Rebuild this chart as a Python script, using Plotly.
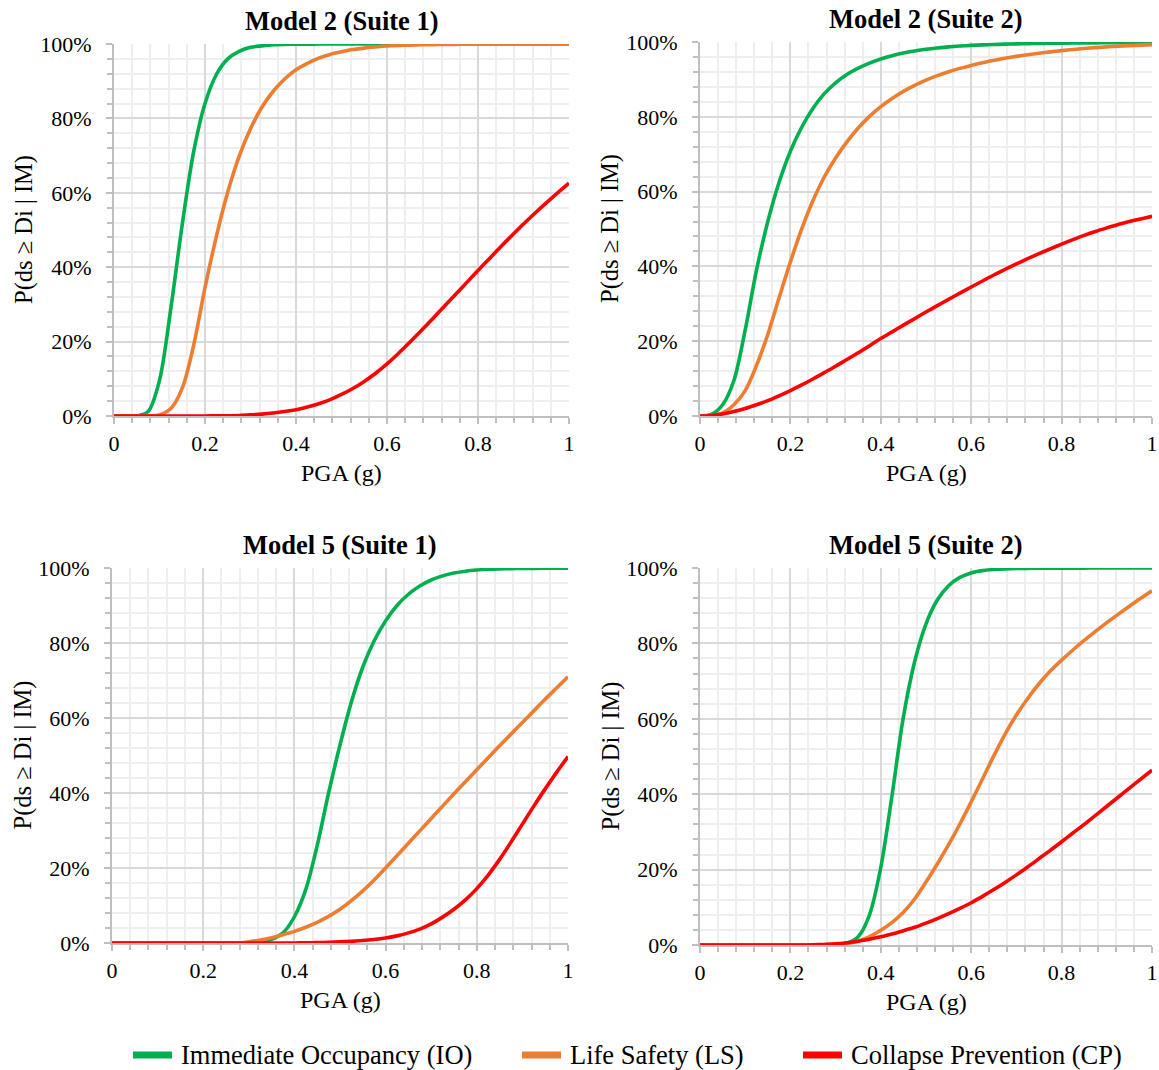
import plotly.graph_objects as go

# PGA (g) sample points
pga = [0, 0.025, 0.05, 0.075, 0.1, 0.125, 0.15, 0.175, 0.2, 0.225, 0.25, 0.275, 0.3,
       0.325, 0.35, 0.375, 0.4, 0.425, 0.45, 0.475, 0.5, 0.525, 0.55, 0.575, 0.6,
       0.625, 0.65, 0.675, 0.7, 0.725, 0.75, 0.775, 0.8, 0.825, 0.85, 0.875, 0.9,
       0.925, 0.95, 0.975, 1.0]

# Probabilities of exceedance (%)
m2s1_io = [0, 0, 0, 1.2, 9.6, 29, 51.5, 71, 84, 91.8, 96, 98, 99.1, 99.5, 99.8, 99.9, 99.95,
           99.97, 99.98, 99.99, 100, 100, 100, 100, 100, 100, 100, 100, 100, 100, 100, 100,
           100, 100, 100, 100, 100, 100, 100, 100, 100]
m2s1_ls = [0, 0, 0, 0, 0.3, 2, 7.5, 19, 34.5, 48.3, 60.2, 69.8, 77.2, 83.0, 87.3, 90.6, 93.1,
           94.8, 96.2, 97.2, 97.9, 98.5, 98.9, 99.2, 99.45, 99.6, 99.7, 99.78, 99.84, 99.88,
           99.91, 99.93, 99.95, 99.96, 99.97, 99.98, 99.98, 99.99, 99.99, 99.99, 100]
m2s1_cp = [0, 0, 0, 0, 0, 0, 0, 0, 0.02, 0.04, 0.08, 0.15, 0.3, 0.5, 0.8, 1.2, 1.7, 2.4, 3.3,
           4.4, 5.8, 7.4, 9.3, 11.5, 14.0, 16.8, 19.8, 22.9, 26.1, 29.35, 32.6, 35.85, 39.1,
           42.3, 45.5, 48.6, 51.6, 54.5, 57.3, 60.0, 62.6]

m2s2_io = [0, 0.4, 3.0, 9.5, 23.0, 39.0, 52.0, 62.5, 70.8, 77.2, 82.3, 86.2, 89.1, 91.3, 93.0,
           94.35, 95.45, 96.35, 97.05, 97.6, 98.05, 98.4, 98.7, 98.92, 99.1, 99.23, 99.33,
           99.42, 99.5, 99.56, 99.61, 99.65, 99.69, 99.72, 99.75, 99.77, 99.8, 99.82, 99.84,
           99.85, 99.87]
m2s2_ls = [0, 0.1, 0.8, 3.0, 6.8, 13.5, 21.8, 31.6, 41.2, 50.0, 57.6, 63.9, 69.0, 73.3, 77.0,
           80.1, 82.7, 84.9, 86.8, 88.4, 89.8, 91.0, 92.05, 92.95, 93.75, 94.45, 95.1, 95.65,
           96.15, 96.6, 97.0, 97.35, 97.7, 98.0, 98.25, 98.5, 98.7, 98.88, 99.03, 99.17, 99.3]
m2s2_cp = [0, 0.15, 0.55, 1.2, 2.0, 3.0, 4.1, 5.4, 6.8, 8.3, 9.9, 11.6, 13.3, 15.1, 16.9, 18.8,
           20.7, 22.5, 24.3, 26.05, 27.8, 29.5, 31.2, 32.85, 34.5, 36.1, 37.7, 39.2, 40.65,
           42.05, 43.4, 44.7, 45.95, 47.15, 48.3, 49.35, 50.3, 51.2, 52.0, 52.7, 53.4]

m5s1_io = [0, 0, 0, 0, 0, 0, 0, 0, 0, 0, 0, 0, 0, 0.3, 1.0, 2.7, 7.0, 14.3, 26.0, 40.0, 52.8,
           64.3, 73.6, 80.6, 85.9, 90.0, 93.0, 95.2, 96.8, 97.9, 98.65, 99.15, 99.45, 99.65,
           99.77, 99.84, 99.88, 99.91, 99.93, 99.94, 99.95]
m5s1_ls = [0, 0, 0, 0, 0, 0, 0, 0, 0, 0, 0, 0, 0.35, 0.8, 1.4, 2.2, 3.1, 4.2, 5.5, 7.1, 9.0,
           11.3, 13.9, 16.8, 20.0, 23.3, 26.6, 29.9, 33.2, 36.5, 39.8, 43.0, 46.2, 49.4, 52.6,
           55.7, 58.8, 61.9, 65.0, 68.0, 71.0]
m5s1_cp = [0, 0, 0, 0, 0, 0, 0, 0, 0, 0, 0, 0, 0, 0, 0, 0, 0, 0.05, 0.1, 0.2, 0.3, 0.45, 0.65,
           0.95, 1.35, 1.9, 2.7, 3.7, 5.1, 6.9, 9.0, 11.5, 14.5, 18.1, 22.3, 26.9, 31.7, 36.5,
           41.1, 45.5, 49.7]

m5s2_io = [0, 0, 0, 0, 0, 0, 0, 0, 0, 0, 0, 0, 0.05, 0.5, 2.2, 8.0, 20.6, 39.8, 60.5, 75.2,
           85.2, 91.5, 95.3, 97.5, 98.7, 99.3, 99.6, 99.77, 99.86, 99.91, 99.94, 99.96, 99.97,
           99.98, 99.98, 99.99, 99.99, 99.99, 99.99, 100, 100]
m5s2_ls = [0, 0, 0, 0, 0, 0, 0, 0, 0, 0, 0, 0, 0.1, 0.4, 1.0, 2.2, 3.9, 6.0, 8.7, 12.2, 16.7,
           21.5, 26.6, 32.1, 37.95, 44.05, 50.15, 55.95, 61.0, 65.4, 69.3, 72.65, 75.55,
           78.25, 80.8, 83.2, 85.5, 87.7, 89.85, 91.95, 93.95]
m5s2_cp = [0, 0, 0, 0, 0, 0, 0, 0, 0, 0, 0.05, 0.15, 0.3, 0.6, 1.0, 1.5, 2.2, 2.9, 3.8, 4.7,
           5.8, 7.0, 8.3, 9.7, 11.2, 12.9, 14.7, 16.6, 18.6, 20.7, 22.9, 25.1, 27.4, 29.7, 32.0,
           34.4, 36.8, 39.2, 41.6, 44.0, 46.4]

panel_titles = ["Model 2 (Suite 1)", "Model 2 (Suite 2)", "Model 5 (Suite 1)", "Model 5 (Suite 2)"]
series_names = ["Immediate Occupancy (IO)", "Life Safety (LS)", "Collapse Prevention (CP)"]
series_colors = ["#00B050", "#ED7D31", "#FF0000"]
panels = [[m2s1_io, m2s1_ls, m2s1_cp], [m2s2_io, m2s2_ls, m2s2_cp],
          [m5s1_io, m5s1_ls, m5s1_cp], [m5s2_io, m5s2_ls, m5s2_cp]]

W, H = 1159, 1070
FONT = "Liberation Serif"

# plot area pixel boxes (left, right, top, bottom)
boxes = [(114, 569, 44, 416), (700, 1152, 42, 416), (112, 568, 568, 943), (700, 1152, 568, 945)]

fig = go.Figure()
for i, data in enumerate(panels):
    ax = "" if i == 0 else str(i + 1)
    for j, vals in enumerate(data):
        fig.add_trace(go.Scatter(
            x=pga, y=[v / 100 for v in vals], mode="lines", name=series_names[j],
            line=dict(color=series_colors[j], width=3.6, shape="spline", smoothing=0.9),
            xaxis="x" + ax, yaxis="y" + ax, showlegend=False, hoverinfo="skip"))

tickfont = dict(family=FONT, size=22, color="black")
layout = dict(width=W, height=H, autosize=False, margin=dict(l=0, r=0, t=0, b=0),
              paper_bgcolor="white", plot_bgcolor="white", template="none",
              showlegend=False, font=dict(family=FONT, color="black"))
annotations = []
shapes = []
for i, (l, r, t, b) in enumerate(boxes):
    ax = "" if i == 0 else str(i + 1)
    common = dict(range=[0, 1], showgrid=True, gridcolor="#D9D9D9", gridwidth=1.6,
                  showline=True, linecolor="#BFBFBF", linewidth=2, zeroline=False,
                  ticks="outside", ticklen=6, tickcolor="#BFBFBF", tickwidth=2,
                  tick0=0, dtick=0.2, tickfont=tickfont, automargin=False,
                  minor=dict(dtick=0.04, tick0=0, showgrid=True, gridcolor="#EEEEEE",
                             gridwidth=1.6, ticks="outside", ticklen=5,
                             tickcolor="#BFBFBF", tickwidth=1.5))
    layout["xaxis" + ax] = dict(common, domain=[l / W, r / W],
                                anchor="y" + ax, ticklabelstandoff=1)
    layout["yaxis" + ax] = dict(common, domain=[1 - b / H, 1 - t / H],
                                anchor="x" + ax, tickformat=".0%", ticklabelstandoff=10)
    cx = (l + r) / 2
    annotations.append(dict(text="<b>%s</b>" % panel_titles[i], x=cx / W, y=1 - (t - 23) / H,
                            xref="paper", yref="paper", showarrow=False,
                            xanchor="center", yanchor="middle",
                            font=dict(family=FONT, size=26.5, color="black")))
    annotations.append(dict(text="PGA (g)", x=cx / W, y=1 - (b + 57) / H,
                            xref="paper", yref="paper", showarrow=False,
                            xanchor="center", yanchor="middle",
                            font=dict(family=FONT, size=24, color="black")))
    annotations.append(dict(text="P(ds ≥ Di | IM)", x=(l - 90) / W, y=1 - (t + b) / 2 / H,
                            xref="paper", yref="paper", showarrow=False, textangle=-90,
                            xanchor="center", yanchor="middle",
                            font=dict(family=FONT, size=24.5, color="black")))

# legend drawn as key lines + text (keeps the page margins fixed)
legend_key_x = [133, 522, 803]
legend_y = 1 - 1055 / H
for j in range(3):
    x0 = legend_key_x[j]
    shapes.append(dict(type="line", xref="paper", yref="paper",
                       x0=x0 / W, x1=(x0 + 39) / W, y0=legend_y, y1=legend_y,
                       line=dict(color=series_colors[j], width=7)))
    annotations.append(dict(text=series_names[j], x=(x0 + 46) / W, y=legend_y,
                            xref="paper", yref="paper", showarrow=False,
                            xanchor="left", yanchor="middle",
                            font=dict(family=FONT, size=26.5, color="black")))
layout["annotations"] = annotations
layout["shapes"] = shapes
fig.update_layout(**layout)
fig.write_html("out.html")
